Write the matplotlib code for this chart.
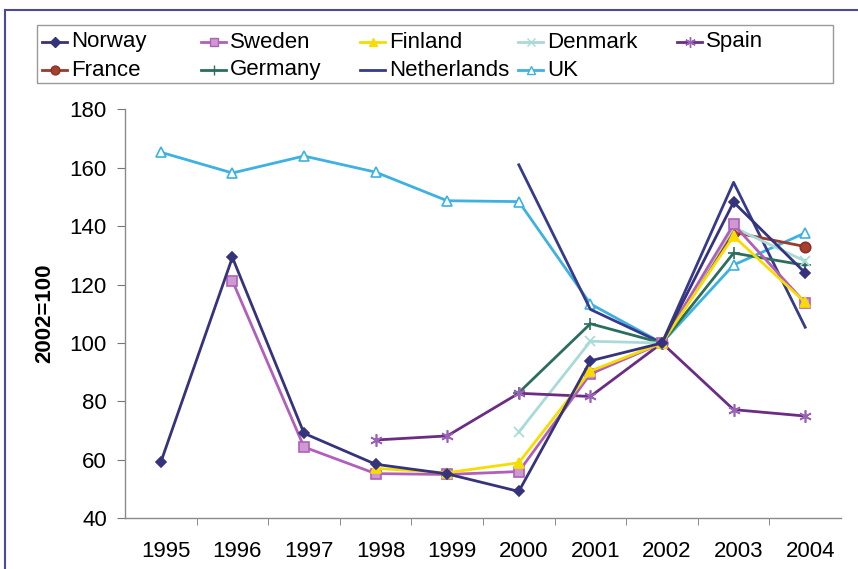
import numpy as np
import matplotlib
matplotlib.use('Agg')
import matplotlib.pyplot as plt
from matplotlib.lines import Line2D
from matplotlib.patches import Rectangle
import matplotlib.transforms as mtransforms

plt.rcParams['font.family'] = ['Liberation Sans', 'DejaVu Sans']

nan = np.nan
years = ['1995', '1996', '1997', '1998', '1999', '2000', '2001', '2002', '2003', '2004']
norway = [59.2, 129.3, 69.1, 58.5, 55.2, 49.2, 93.9, 100, 148.2, 124.0]
sweden = [nan, 121.3, 64.4, 55.3, 55.0, 56.0, 89.4, 100, 140.6, 113.7]
finland = [nan, nan, nan, 57.1, 55.6, 59.0, 90.4, 100, 136.6, 113.9]
denmark = [nan, nan, nan, nan, nan, 69.5, 100.6, 100, 139.6, 128.0]
spain = [nan, nan, nan, 66.8, 68.2, 82.8, 81.7, 100, 77.2, 75.0]
france = [nan, nan, nan, nan, nan, nan, nan, 100, 137.9, 133.0]
germany = [nan, nan, nan, nan, nan, 83.0, 106.6, 100, 130.8, 126.6]
netherlands = [nan, nan, nan, nan, nan, 161.0, 111.5, 100, 155.0, 105.4]
uk = [165.3, 158.2, 164.0, 158.5, 148.7, 148.4, 113.4, 100, 126.7, 137.7]

star = (6, 2, 0)  # asterisk like the Excel star marker
# name, values, line colour, marker, marker face, marker edge, marker size
series = [
    ('Norway', norway, '#34337c', 'D', '#34337c', '#34337c', 5.5),
    ('Sweden', sweden, '#b15fba', 's', '#cc99d0', '#b15fba', 6.5),
    ('Finland', finland, '#f7dc00', '^', '#f7dc00', '#f7dc00', 7.5),
    ('Denmark', denmark, '#a9dbd6', 'x', '#a9dbd6', '#a9dbd6', 6.5),
    ('Spain', spain, '#6b2c84', star, '#9a62b4', '#9a62b4', 9),
    ('France', france, '#9b3a2e', 'o', '#a8402f', '#8a3028', 7.5),
    ('Germany', germany, '#2b6e5e', '+', '#2b6e5e', '#2b6e5e', 8),
    ('Netherlands', netherlands, '#363a8c', 'None', 'none', 'none', 0),
    ('UK', uk, '#3cb1e2', '^', 'white', '#3cb1e2', 7),
]

W, H = 858, 569
fig = plt.figure(figsize=(W / 100, H / 100), dpi=100)
ax = fig.add_axes([125 / W, 1 - 518.3 / H, (841 - 125) / W, (518.3 - 109.3) / H])

x = np.arange(len(years))
order = ['UK', 'Netherlands', 'Germany', 'France', 'Denmark', 'Spain', 'Sweden', 'Finland', 'Norway']
lookup = {s[0]: s for s in series}
for name in order:
    n, vals, col, mk, fc, ec, ms = lookup[name]
    ax.plot(x, vals, color=col, lw=2.0, marker=mk, ms=ms,
            mfc=fc, mec=ec, mew=1.2)

ax.set_xlim(-0.5, len(years) - 0.5)
ax.set_ylim(40, 180)
ax.set_yticks(np.arange(40, 181, 20))
ax.set_xticks(x)
ax.set_xticklabels(years)
ax.set_xticks(np.arange(0.5, len(years) - 1, 1), minor=True)
ax.tick_params(axis='x', which='major', length=0, pad=16, labelsize=16)
ax.tick_params(axis='x', which='minor', length=5, color='#777777', direction='out')
ax.tick_params(axis='y', length=6, pad=7, labelsize=16, color='#777777')
offset = mtransforms.ScaledTranslation(5 / 100, 0, fig.dpi_scale_trans)
for lab in ax.get_xticklabels():
    lab.set_transform(lab.get_transform() + offset)

for s in ['top', 'right']:
    ax.spines[s].set_visible(False)
for s in ['left', 'bottom']:
    ax.spines[s].set_color('#8a8a8a')
    ax.spines[s].set_linewidth(1.0)

fig.text(45 / W, 1 - 313 / H, '2002=100', rotation=90, fontsize=16,
         fontweight='bold', ha='center', va='center')

# outer chart frame
fig.add_artist(Line2D([5 / W, 5 / W], [0, 1 - 10 / H], transform=fig.transFigure,
                      color='#4a4a9a', lw=1.5))
fig.add_artist(Line2D([5 / W, 1], [1 - 10 / H, 1 - 10 / H], transform=fig.transFigure,
                      color='#4a4a9a', lw=1.5))

# legend box with equal column widths
fig.add_artist(Rectangle((37 / W, 1 - 83 / H), (833 - 37) / W, (83 - 25) / H,
                         transform=fig.transFigure, fill=False,
                         edgecolor='#999999', lw=1.0))
col_x = [71, 230, 389, 547, 706]
row_y = [42, 70]
leg_order = ['Norway', 'Sweden', 'Finland', 'Denmark', 'Spain',
             'France', 'Germany', 'Netherlands', 'UK']
for i, name in enumerate(leg_order):
    n, vals, col, mk, fc, ec, ms = lookup[name]
    tx = col_x[i % 5]
    ty = row_y[i // 5]
    fy = 1 - ty / H
    fig.add_artist(Line2D([(tx - 29) / W, (tx - 4) / W], [fy, fy],
                          transform=fig.transFigure, color=col, lw=2.0))
    if mk != 'None':
        fig.add_artist(Line2D([(tx - 16.5) / W], [fy], transform=fig.transFigure,
                              marker=mk, ms=ms * 0.85, mfc=fc, mec=ec,
                              mew=1.0, ls='None'))
    fig.text(tx / W, fy, n, fontsize=16, ha='left', va='center')

fig.savefig('out.png', dpi=100)
